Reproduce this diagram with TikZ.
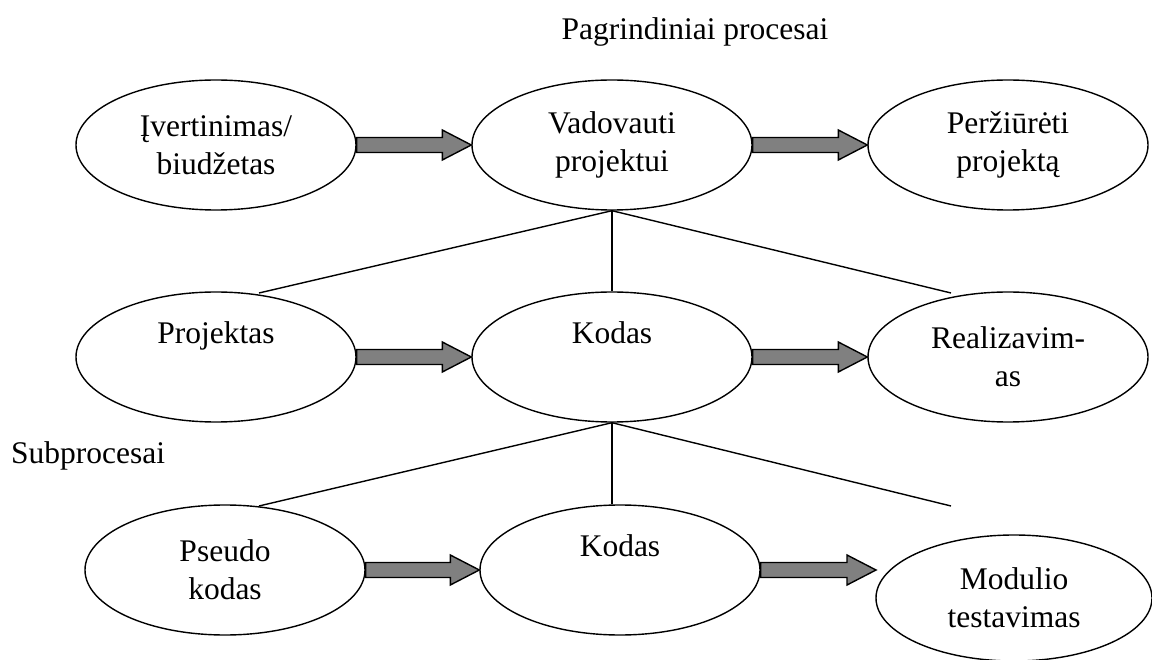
\documentclass[tikz,border=0pt]{standalone}
\usepackage{fontspec}
\setmainfont{Liberation Serif}
\usetikzlibrary{shapes.geometric,calc}
\definecolor{arrowgray}{RGB}{128,128,128}
\tikzset{
  proc/.style={draw, line width=1.4pt, ellipse, minimum width=280pt, minimum height=130pt,
    inner sep=0pt, align=center, font=\fontsize{31.5}{38}\selectfont},
  conn/.style={line width=1.4pt},
  blk/.style={draw, line width=1.4pt, fill=arrowgray, line join=miter},
  lbl/.style={font=\fontsize{31.5}{38}\selectfont, inner sep=0pt}
}
\newcommand\blockarrow[2]{%
  \draw[blk] let \p1=(#1), \p2=(#2) in
    (\x1,\y1+7.5pt) -- (\x2-29pt,\y1+7.5pt) -- (\x2-29pt,\y1+15pt) -- (\x2,\y1)
    -- (\x2-29pt,\y1-15pt) -- (\x2-29pt,\y1-7.5pt) -- (\x1,\y1-7.5pt) -- cycle;}
\begin{document}
\begin{tikzpicture}[x=1pt,y=-1pt]
  \useasboundingbox (0,0) rectangle (1152,660);

  \node[lbl, anchor=base] (title) at (695,40) {Pagrindiniai procesai};
  \node[lbl, anchor=base west] (sub) at (11,463) {Subprocesai};

  \node[proc] (est) at (216,145) {Įvertinimas/\\biudžetas};
  \node[proc] (lead) at (612,145) {Vadovauti\\projektui};
  \node[proc] (rev) at (1008,145) {Peržiūrėti\\projektą};

  \node[proc] (proj) at (216,357) {Projektas\\\strut};
  \node[proc] (code) at (612,357) {Kodas\\\strut};
  \node[proc] (impl) at (1008,357) {Realizavim-\\as};

  \node[proc] (pseudo) at (225,570) {Pseudo\\kodas};
  \node[proc] (code2) at (620,570) {Kodas\\\strut};
  \node[proc, minimum width=276pt, minimum height=126pt] (mod) at (1014,598) {Modulio\\testavimas};

  \coordinate (j1l) at (259,293);
  \coordinate (j1r) at (951,293);
  \coordinate (j2l) at (259,506);
  \coordinate (j2r) at (951,506);
  \coordinate (a6) at (876,570);

  \draw[conn] (lead.south) -- (j1l);
  \draw[conn] (lead.south) -- (code.north);
  \draw[conn] (lead.south) -- (j1r);
  \draw[conn] (code.south) -- (j2l);
  \draw[conn] (code.south) -- (code.south |- code2.north);
  \draw[conn] (code.south) -- (j2r);

  \blockarrow{est.east}{lead.west}
  \blockarrow{lead.east}{rev.west}
  \blockarrow{proj.east}{code.west}
  \blockarrow{code.east}{impl.west}
  \blockarrow{pseudo.east}{code2.west}
  \blockarrow{code2.east}{a6}
\end{tikzpicture}
\end{document}
